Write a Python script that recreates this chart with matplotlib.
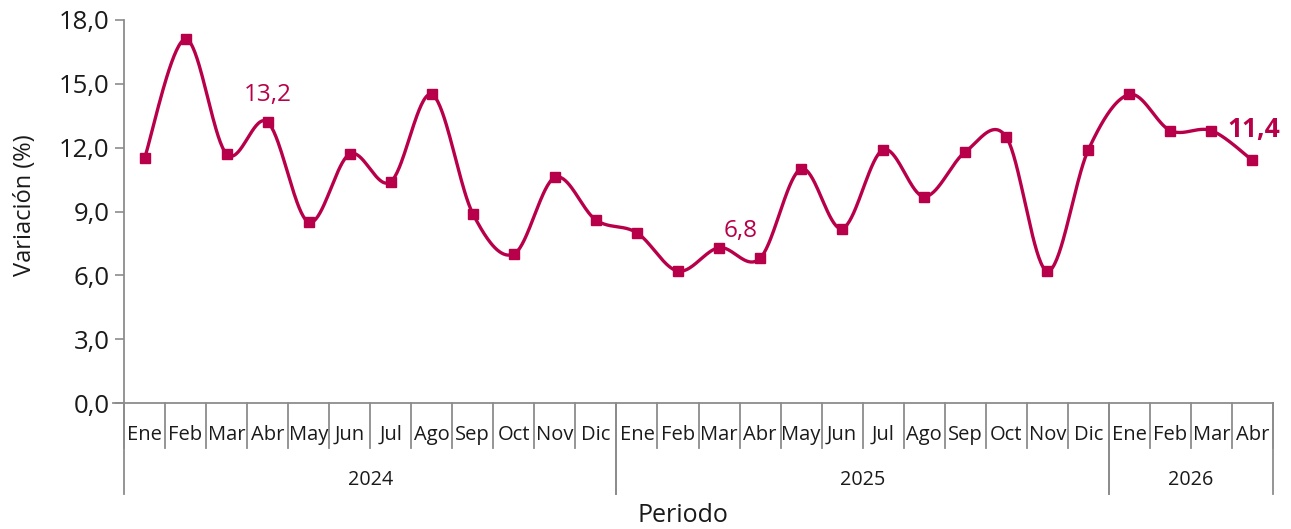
import matplotlib
matplotlib.use("Agg")
import matplotlib.pyplot as plt
import numpy as np

months = ["Ene", "Feb", "Mar", "Abr", "May", "Jun", "Jul", "Ago", "Sep", "Oct", "Nov", "Dic",
          "Ene", "Feb", "Mar", "Abr", "May", "Jun", "Jul", "Ago", "Sep", "Oct", "Nov", "Dic",
          "Ene", "Feb", "Mar", "Abr"]
years = ["2024", "2025", "2026"]
year_counts = [12, 12, 4]
values = [11.5, 17.1, 11.7, 13.2, 8.5, 11.7, 10.4, 14.5, 8.9, 7.0, 10.6, 8.6,
          8.0, 6.2, 7.3, 6.8, 11.0, 8.2, 11.9, 9.7, 11.8, 12.5, 6.2, 11.9,
          14.5, 12.8, 12.8, 11.4]
labeled = {3: ("13,2", "normal"), 15: ("6,8", "normal"), 27: ("11,4", "bold")}

COLOR = "#B8004A"
AXC = "#8C8C8C"
TXT = "#1a1a1a"
FONT = "Open Sans"
plt.rcParams["font.family"] = [FONT, "DejaVu Sans"]

fig = plt.figure(figsize=(12.91, 5.29), dpi=100)
W, H = 1291, 529
x0, x1, ytop, ybot = 124, 1273, 20, 403
ax = fig.add_axes([x0 / W, 1 - ybot / H, (x1 - x0) / W, (ybot - ytop) / H])

n = len(values)
x = np.arange(n)
y = np.array(values)

# Excel-like smoothing (Catmull-Rom as Bezier)
P = np.column_stack([x, y]).astype(float)
curve = []
for i in range(n - 1):
    p0 = P[i - 1] if i > 0 else P[i]
    p1 = P[i]
    p2 = P[i + 1]
    p3 = P[i + 2] if i + 2 < n else P[i + 1]
    c1 = p1 + (p2 - p0) / 6
    c2 = p2 - (p3 - p1) / 6
    t = np.linspace(0, 1, 40)[:, None]
    seg = (1 - t) ** 3 * p1 + 3 * (1 - t) ** 2 * t * c1 + 3 * (1 - t) * t ** 2 * c2 + t ** 3 * p2
    curve.append(seg if i == 0 else seg[1:])
curve = np.vstack(curve)

ax.plot(curve[:, 0], curve[:, 1], color=COLOR, lw=2.4, zorder=2, solid_capstyle="round")
ax.plot(x, y, ls="none", marker="s", ms=7.5, color=COLOR, zorder=3)

ax.set_xlim(-0.5, n - 0.5)
ax.set_ylim(0, 18)
yt = np.arange(0, 18.1, 3)
ax.set_yticks(yt)
ax.set_yticklabels([f"{v:.1f}".replace(".", ",") for v in yt], fontsize=18.5, color=TXT)
ax.tick_params(axis="y", length=6.5, width=1.2, color=AXC, pad=4)
ax.set_xticks([])
for s in ["top", "right", "bottom"]:
    ax.spines[s].set_visible(False)
ax.spines["left"].set_color(AXC)
ax.spines["left"].set_linewidth(1.3)

# data labels
offsets = {3: (0, 27), 15: (-19, 27), 27: (1, 31)}
sizes = {3: 17.5, 15: 17.5, 27: 19}
for i, (txt, wt) in labeled.items():
    ax.annotate(txt, (x[i], y[i]), xytext=offsets[i], textcoords="offset pixels",
                ha="center", va="center", fontsize=sizes[i], color=COLOR, fontweight=wt)

# category axis (drawn in figure pixel coords)
def fx(px):
    return px / W
def fy(py):
    return 1 - py / H

fig.text(fx(25), fy(205), "Variación (%)", rotation=90, ha="center", va="center",
         fontsize=17, color=TXT)

cw = (x1 - x0) / n
lw_ax = 1.3
fig.add_artist(plt.Line2D([fx(113), fx(x1)], [fy(ybot), fy(ybot)], color=AXC, lw=lw_ax))
for k in range(n + 1):
    px = x0 + k * cw
    fig.add_artist(plt.Line2D([fx(px), fx(px)], [fy(ybot), fy(448)], color=AXC, lw=lw_ax))
for k, m in enumerate(months):
    fig.text(fx(x0 + (k + 0.5) * cw), fy(435), m, ha="center", va="center", fontsize=14.5,
             color=TXT)
start = 0
for yr, c in zip(years, year_counts):
    pa = x0 + start * cw
    pb = x0 + (start + c) * cw
    fig.add_artist(plt.Line2D([fx(pa), fx(pa)], [fy(ybot), fy(494)], color=AXC, lw=lw_ax))
    fig.add_artist(plt.Line2D([fx(pb), fx(pb)], [fy(ybot), fy(494)], color=AXC, lw=lw_ax))
    fig.text(fx((pa + pb) / 2), fy(480), yr, ha="center", va="center", fontsize=14.2,
             color=TXT)
    start += c

fig.text(fx(683), fy(515), "Periodo", ha="center", va="center", fontsize=18,
         color=TXT)

fig.savefig("out.png", dpi=100)
